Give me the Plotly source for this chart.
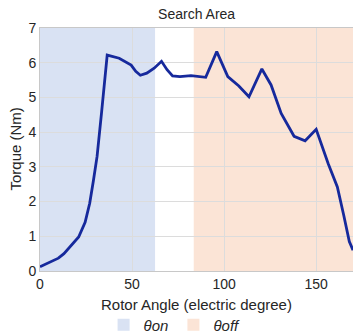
import plotly.graph_objects as go

angle = [0, 5, 10, 13, 18, 21, 24.5, 27, 29, 31, 33.5, 36.5, 43, 49.5, 52, 54.5, 58, 62,
         66, 69, 72, 76, 82, 90, 96, 102, 108, 113.5, 120.5, 125.5, 131, 138, 144, 150,
         156.5, 161.5, 165, 168, 170]
torque = [0.12, 0.25, 0.37, 0.5, 0.79, 0.98, 1.4, 1.95, 2.6, 3.3, 4.6, 6.22, 6.13, 5.93,
          5.75, 5.64, 5.7, 5.84, 6.04, 5.8, 5.62, 5.6, 5.63, 5.58, 6.32, 5.6, 5.33, 5.02,
          5.82, 5.36, 4.54, 3.88, 3.75, 4.08, 3.1, 2.42, 1.6, 0.85, 0.6]

region_names = ["θon", "θoff"]
region_start = [0, 83.5]
region_end = [62.5, 170]
region_colors = ["#d9e2f3", "#fbe4d6"]

x_ticks = [0, 50, 100, 150]
y_ticks = [0, 1, 2, 3, 4, 5, 6, 7]

fig = go.Figure()
shapes = []
for name, x0, x1, c in zip(region_names, region_start, region_end, region_colors):
    shapes.append(dict(type="rect", xref="x", yref="y", x0=x0, x1=x1, y0=0, y1=7,
                       fillcolor=c, line=dict(width=0), layer="below",
                       showlegend=True, name=f"<i>{name}</i>"))

fig.add_trace(go.Scatter(x=angle, y=torque, mode="lines", showlegend=False,
                         line=dict(color="#16299c", width=2.8)))

fig.update_layout(
    width=353, height=335,
    margin=dict(l=40, r=0, t=28, b=64, autoexpand=False),
    paper_bgcolor="white", plot_bgcolor="white",
    font=dict(family="Liberation Sans, Arial", color="#262626", size=14),
    title=dict(text="Search Area", x=0.557, xanchor="center", y=0.958, yanchor="middle",
               font=dict(size=14, color="#262626")),
    shapes=shapes,
    showlegend=True,
    legend=dict(orientation="h", x=0.43, xanchor="center", yref="container",
                y=0.03, yanchor="middle", tracegroupgap=0,
                font=dict(size=15, color="#262626"), itemwidth=30),
    annotations=[
        dict(text="Rotor Angle (electric degree)", xref="paper", yref="paper",
             x=0.5, y=-33 / 243, xanchor="center", yanchor="middle", showarrow=False,
             font=dict(size=15, color="#262626")),
        dict(text="Torque (Nm)", xref="paper", yref="paper", x=-25 / 313, y=0.5,
             xanchor="center", yanchor="middle", textangle=-90, showarrow=False,
             font=dict(size=15, color="#262626")),
    ],
    xaxis=dict(range=[0, 170], tickvals=x_ticks, showgrid=True, gridcolor="#dcdcdc",
               zeroline=False, showline=True, linecolor="#c8c8c8", mirror=True,
               ticks="", tickfont=dict(size=14, color="#262626")),
    yaxis=dict(range=[0, 7], tickvals=y_ticks, showgrid=True, gridcolor="#dcdcdc",
               zeroline=False, showline=True, linecolor="#c8c8c8", mirror=True,
               ticks="", tickfont=dict(size=14, color="#262626")),
)

fig.write_html("out.html")
